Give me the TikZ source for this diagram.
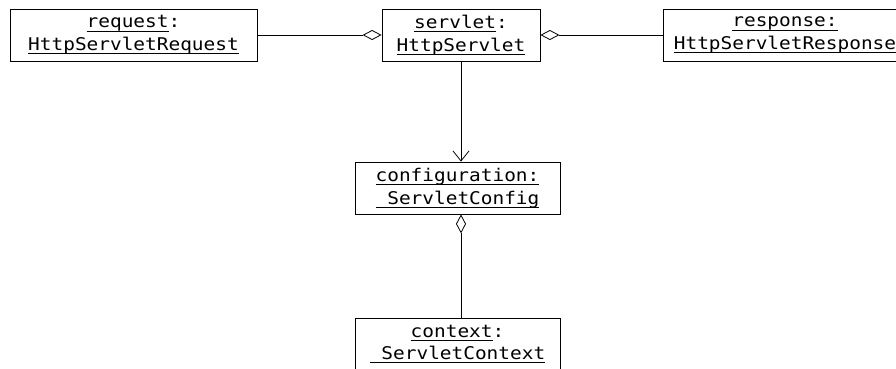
\documentclass[tikz,border=0pt]{standalone}
\usepackage{fontspec}
\newfontfamily\umlfont[FakeStretch=1.11]{DejaVu Sans Mono}
\usetikzlibrary{arrows.meta}

% underlined object name with a fixed offset below the baseline
\newcommand{\objul}[1]{\setbox0\hbox{#1}\rlap{\rule[-3.8pt]{\wd0}{1pt}}\box0}

\tikzset{
  object/.style={draw, line width=0.8pt, inner sep=0pt, align=center,
    font=\umlfont\fontsize{17.5pt}{22.5pt}\selectfont},
  link/.style={line width=0.8pt},
  aggr/.style={link, -{Diamond[open, length=19pt, width=10pt]}},
  aggrstart/.style={link, {Diamond[open, length=19pt, width=10pt]}-},
  nav/.style={link, -{Straight Barb[length=10pt, width=16pt]}},
}

\begin{document}
\begin{tikzpicture}[x=1pt, y=-1pt]
\useasboundingbox (0,0) rectangle (896,368);

\node[object, minimum width=247pt, minimum height=52pt] (request) at (133.5,35)
  {\objul{request}:\\\objul{HttpServletRequest}};
\node[object, minimum width=158pt, minimum height=52pt] (servlet) at (461,35)
  {\objul{servlet}:\\\objul{HttpServlet}};
\node[object, minimum width=244pt, minimum height=52pt] (response) at (785,35)
  {\objul{response:}\\\objul{HttpServletResponse}};
\node[object, minimum width=205pt, minimum height=52pt] (config) at (457.5,188)
  {\objul{configuration:}\\\objul{\ ServletConfig}};
\node[object, minimum width=205pt, minimum height=52pt] (context) at (457.5,344)
  {\objul{context}:\\\objul{\ ServletContext}};

\draw[aggr] (request) -- (servlet);
\draw[aggrstart] (servlet) -- (response);
\draw[nav] (servlet.south) -- (servlet.south |- config.north);
\draw[aggrstart] (servlet.south |- config.south) -- (servlet.south |- context.north);
\end{tikzpicture}
\end{document}
